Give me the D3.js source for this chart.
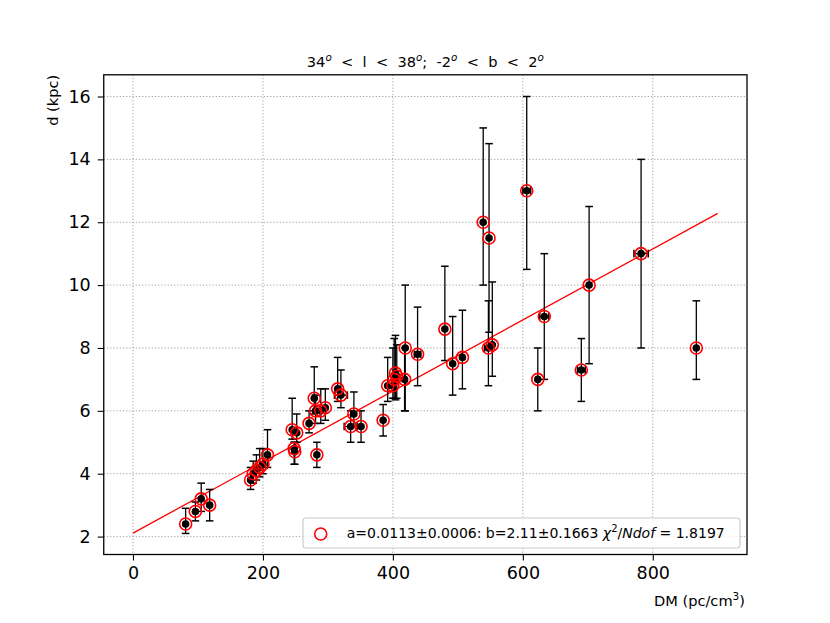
<!DOCTYPE html>
<html><head><meta charset="utf-8">
<script src="https://cdn.jsdelivr.net/npm/d3@7"></script>
<style>body{margin:0;background:#fff} svg{font-family:"DejaVu Sans",sans-serif} text{white-space:pre}</style>
</head><body><svg id="c" width="830" height="623"></svg>
<script>
// ---- data ----
const dm    = [81, 96, 105, 118, 181, 185, 190, 195, 200, 207, 245, 252, 248, 249, 271, 279, 281, 283, 289, 296, 315, 320, 335, 340, 351, 385, 392, 400, 402, 404, 406, 418, 419, 438, 480, 492, 507, 539, 548, 547, 553, 606, 623, 633, 690, 702, 782, 867];
const dist  = [2.4, 2.8, 3.2, 3.0, 3.8, 4.0, 4.1, 4.2, 4.3, 4.6, 5.4, 5.3, 4.8, 4.7, 5.6, 6.4, 6.0, 4.6, 6.0, 6.1, 6.7, 6.5, 5.5, 5.9, 5.5, 5.7, 6.8, 6.8, 7.0, 7.2, 7.1, 7.0, 8.0, 7.8, 8.6, 7.5, 7.7, 12.0, 11.5, 8.0, 8.1, 13.0, 7.0, 9.0, 7.3, 10.0, 11.0, 8.0];
const errHi = [0.5, 0.3, 0.5, 0.5, 0.4, 0.4, 0.5, 0.6, 0.5, 0.8, 1.0, 0.6, 0.2, 0.3, 0.4, 1.0, 0.5, 0.4, 0.7, 0.6, 1.0, 0.8, 0.5, 0.7, 0.5, 0.5, 0.9, 1.2, 1.3, 1.2, 1.0, 1.0, 2.0, 1.5, 2.0, 1.5, 1.5, 3.0, 3.0, 1.5, 2.0, 3.0, 1.0, 2.0, 1.0, 2.5, 3.0, 1.5];
const errLo = [0.3, 0.3, 0.4, 0.5, 0.3, 0.3, 0.3, 0.3, 0.3, 0.4, 0.3, 0.3, 0.5, 0.4, 0.3, 0.5, 0.4, 0.4, 0.4, 0.4, 0.4, 0.4, 0.5, 0.4, 0.5, 0.5, 0.5, 0.4, 0.6, 0.85, 0.7, 1.0, 2.0, 1.0, 1.0, 1.0, 1.0, 2.0, 3.0, 1.2, 1.0, 2.5, 1.0, 2.0, 1.0, 2.5, 3.0, 1.0];
const dmErr = [0, 0, 0, 0, 0, 0, 0, 0, 0, 0, 0, 0, 0, 0, 0, 0, 0, 0, 0, 0, 0, 10, 10, 0, 0, 0, 0, 0, 0, 0, 0, 0, 0, 5, 0, 0, 0, 0, 0, 6, 0, 6, 0, 7, 6, 0, 11, 0];
const fitDM = [0, 900];
const fitD  = [2.11, 12.28];
const xTicks = [0, 200, 400, 600, 800];
const yTicks = [2, 4, 6, 8, 10, 12, 14, 16];
const titleParts = [["34",0],["o",1],["  <  l  <  38",0],["o",1],[";  -2",0],["o",1],["  <  b  <  2",0],["o",1]];
const legendText = "a=0.0113±0.0006: b=2.11±0.1663 ";
const xLabel = "DM (pc/cm";
const yLabel = "d (kpc)";

// ---- layout ----
const L = 103.75, R = 747, T = 74.8, B = 554.5;
const svg = d3.select("#c");
const x = d3.scaleLinear().domain([-45, 945]).range([L, R]);
const y = d3.scaleLinear().domain([1.43, 16.69]).range([B, T]);

// grid
const grid = svg.append("g").attr("stroke", "#999999").attr("stroke-width", 0.9).attr("stroke-dasharray", "1.2,2");
grid.selectAll(".gx").data(xTicks).join("line").attr("x1", d => x(d)).attr("x2", d => x(d)).attr("y1", T).attr("y2", B);
grid.selectAll(".gy").data(yTicks).join("line").attr("y1", d => y(d)).attr("y2", d => y(d)).attr("x1", L).attr("x2", R);

// fit line
svg.append("line").attr("x1", x(fitDM[0])).attr("y1", y(fitD[0])).attr("x2", x(fitDM[1])).attr("y2", y(fitD[1]))
  .attr("stroke", "red").attr("stroke-width", 1.3);

const pts = dm.map((v, i) => ({x: v, y: dist[i], hi: errHi[i], lo: errLo[i], xe: dmErr[i]}));
const cap = 3.8;
const eb = svg.append("g").attr("stroke", "black").attr("stroke-width", 1.3);
pts.forEach(p => {
  eb.append("line").attr("x1", x(p.x)).attr("x2", x(p.x)).attr("y1", y(p.y - p.lo)).attr("y2", y(p.y + p.hi));
  [p.y - p.lo, p.y + p.hi].forEach(v => eb.append("line").attr("x1", x(p.x) - cap).attr("x2", x(p.x) + cap).attr("y1", y(v)).attr("y2", y(v)).attr("stroke-width", 1.5));
  if (p.xe > 0) {
    eb.append("line").attr("x1", x(p.x - p.xe)).attr("x2", x(p.x + p.xe)).attr("y1", y(p.y)).attr("y2", y(p.y));
    [p.x - p.xe, p.x + p.xe].forEach(v => eb.append("line").attr("x1", x(v)).attr("x2", x(v)).attr("y1", y(p.y) - cap).attr("y2", y(p.y) + cap).attr("stroke-width", 1.5));
  }
});
svg.append("g").selectAll("circle").data(pts).join("circle")
  .attr("cx", d => x(d.x)).attr("cy", d => y(d.y)).attr("r", 3.8).attr("fill", "black");
svg.append("g").selectAll("circle").data(pts).join("circle")
  .attr("cx", d => x(d.x)).attr("cy", d => y(d.y)).attr("r", 6).attr("fill", "none").attr("stroke", "red").attr("stroke-width", 1.6);

// axes
const xa = svg.append("g").attr("transform", `translate(0,${B})`)
  .call(d3.axisBottom(x).tickValues(xTicks).tickSize(6).tickPadding(6).tickFormat(d3.format("d")));
const ya = svg.append("g").attr("transform", `translate(${L},0)`)
  .call(d3.axisLeft(y).tickValues(yTicks).tickSize(6).tickPadding(7).tickFormat(d3.format("d")));
[xa, ya].forEach(a => {
  a.select(".domain").remove();
  a.selectAll("text").attr("font-size", 17.5).attr("font-family", "DejaVu Sans").attr("fill", "black");
  a.selectAll("line").attr("stroke", "black").attr("stroke-width", 1.1);
});
svg.append("rect").attr("x", L).attr("y", T).attr("width", R - L).attr("height", B - T)
  .attr("fill", "none").attr("stroke", "black").attr("stroke-width", 1.3);

// legend
const lg = svg.append("g");
lg.append("rect").attr("x", 303).attr("y", 518).attr("width", 437).attr("height", 30).attr("rx", 3)
  .attr("fill", "white").attr("fill-opacity", 0.8).attr("stroke", "#cccccc").attr("stroke-width", 1.2);
lg.append("circle").attr("cx", 320.7).attr("cy", 534).attr("r", 6).attr("fill", "none").attr("stroke", "red").attr("stroke-width", 1.6);
const lt = lg.append("text").attr("x", 346.7).attr("y", 537.5).attr("font-size", 14);
lt.append("tspan").text(legendText);
lt.append("tspan").attr("font-style", "italic").text("χ");
lt.append("tspan").attr("font-size", 10).attr("dy", -6).text("2");
lt.append("tspan").attr("dy", 6).text("/");
lt.append("tspan").attr("font-style", "italic").text("Ndof");
lt.append("tspan").text(" = 1.8197");

// title
const tt = svg.append("text").attr("x", (L + R) / 2).attr("y", 61).attr("text-anchor", "middle").attr("font-size", 14.6);
titleParts.forEach(([s, sup]) => {
  if (sup) tt.append("tspan").attr("font-size", 10.4).attr("font-style", "italic").attr("dy", -6).text(s);
  else tt.append("tspan").attr("dy", tt.selectAll("tspan").size() ? 6 : 0).text(s);
});

// axis labels
const xl = svg.append("text").attr("x", 745).attr("y", 605.7).attr("text-anchor", "end").attr("font-size", 14.6);
xl.append("tspan").text(xLabel);
xl.append("tspan").attr("font-size", 10.5).attr("dy", -6).text("3");
xl.append("tspan").attr("dy", 6).text(")");
svg.append("text").attr("transform", `translate(58,${T}) rotate(-90)`).attr("text-anchor", "end").attr("font-size", 14.6).text(yLabel);
</script></body></html>
